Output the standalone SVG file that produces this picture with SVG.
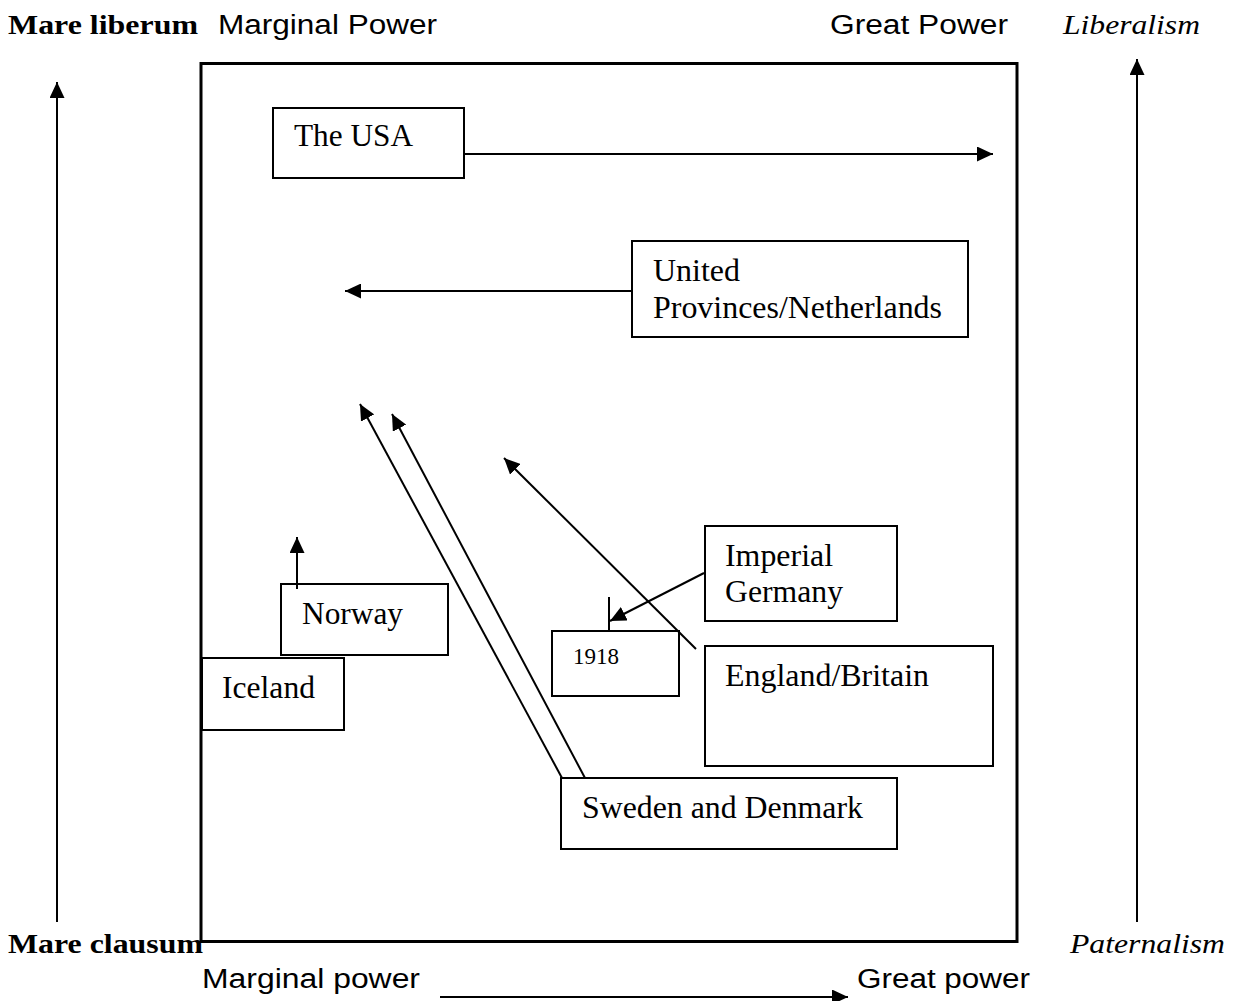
<svg xmlns="http://www.w3.org/2000/svg" width="1240" height="1001" viewBox="0 0 1240 1001">
<style>
.node rect{fill:#fff;stroke:#000;stroke-width:2}
.nt{font-family:"Liberation Serif","Times New Roman",serif;font-size:32px;fill:#000}
.ax{font-family:"Liberation Sans",Arial,sans-serif;font-size:27px;fill:#000}
.bs{font-family:"Liberation Serif","Times New Roman",serif;font-size:28px;font-weight:bold;fill:#000}
.it{font-family:"Liberation Serif","Times New Roman",serif;font-size:28px;font-style:italic;fill:#000}
.conn line{stroke:#000;stroke-width:2;fill:none}
</style>
<defs>
<marker id="ah" markerUnits="userSpaceOnUse" markerWidth="17" markerHeight="15" refX="16" refY="7.5" orient="auto">
<path d="M0,0 L16,7.5 L0,15 z" fill="#000"/>
</marker>
</defs>
<rect width="1240" height="1001" fill="#fff"/>
<rect id="frame" x="201" y="63.5" width="816" height="878" fill="none" stroke="#000" stroke-width="3"/>
<g id="labels">
<text class="bs" x="8" y="34" textLength="190" lengthAdjust="spacingAndGlyphs">Mare liberum</text>
<text class="ax" x="218" y="34" textLength="219" lengthAdjust="spacingAndGlyphs">Marginal Power</text>
<text class="ax" x="830" y="34" textLength="178" lengthAdjust="spacingAndGlyphs">Great Power</text>
<text class="it" x="1063" y="34" textLength="137" lengthAdjust="spacingAndGlyphs">Liberalism</text>
<text class="bs" x="8" y="953" textLength="195" lengthAdjust="spacingAndGlyphs">Mare clausum</text>
<text class="it" x="1070" y="953" textLength="155" lengthAdjust="spacingAndGlyphs">Paternalism</text>
<text class="ax" x="202" y="988" textLength="218" lengthAdjust="spacingAndGlyphs">Marginal power</text>
<text class="ax" x="857" y="988" textLength="173" lengthAdjust="spacingAndGlyphs">Great power</text>
</g>
<g id="usa" class="node"><rect x="273" y="108" width="191" height="70"/><text class="nt" x="294" y="146" textLength="119" lengthAdjust="spacingAndGlyphs">The USA</text></g>
<g id="netherlands" class="node"><rect x="632" y="241" width="336" height="96"/><text class="nt" x="653" y="281" textLength="87" lengthAdjust="spacingAndGlyphs">United</text><text class="nt" x="653" y="318" textLength="289" lengthAdjust="spacingAndGlyphs">Provinces/Netherlands</text></g>
<g id="imperial-germany" class="node"><rect x="705" y="526" width="192" height="95"/><text class="nt" x="725" y="566" textLength="108" lengthAdjust="spacingAndGlyphs">Imperial</text><text class="nt" x="725" y="602" textLength="118" lengthAdjust="spacingAndGlyphs">Germany</text></g>
<g id="england" class="node"><rect x="705" y="646" width="288" height="120"/><text class="nt" x="725" y="686" textLength="204" lengthAdjust="spacingAndGlyphs">England/Britain</text></g>
<g id="norway" class="node"><rect x="281" y="584" width="167" height="71"/><text class="nt" x="302" y="624" textLength="101" lengthAdjust="spacingAndGlyphs">Norway</text></g>
<g id="iceland" class="node"><rect x="202" y="658" width="142" height="72"/><text class="nt" x="222" y="698" textLength="93" lengthAdjust="spacingAndGlyphs">Iceland</text></g>
<g id="y1918" class="node"><rect x="552" y="631" width="127" height="65"/><text class="nt" x="573" y="664" style="font-size:23px" textLength="46" lengthAdjust="spacingAndGlyphs">1918</text></g>
<g id="sweden-denmark" class="node"><rect x="561" y="778" width="336" height="71"/><text class="nt" x="582" y="818" textLength="281" lengthAdjust="spacingAndGlyphs">Sweden and Denmark</text></g>
<g id="connectors" class="conn">
<line x1="57" y1="922" x2="57" y2="82" marker-end="url(#ah)"/>
<line x1="1137" y1="922" x2="1137" y2="59" marker-end="url(#ah)"/>
<line x1="440" y1="997" x2="848" y2="997" marker-end="url(#ah)"/>
<line x1="465" y1="154" x2="993" y2="154" marker-end="url(#ah)"/>
<line x1="632" y1="291" x2="345" y2="291" marker-end="url(#ah)"/>
<line x1="297" y1="589" x2="297" y2="537" marker-end="url(#ah)"/>
<line x1="562" y1="778" x2="360" y2="404" marker-end="url(#ah)"/>
<line x1="585" y1="778" x2="392" y2="414" marker-end="url(#ah)"/>
<line x1="696" y1="649" x2="504" y2="458" marker-end="url(#ah)"/>
<line x1="704" y1="573" x2="610" y2="621" marker-end="url(#ah)"/>
<line x1="609" y1="597" x2="609" y2="631"/>
</g>
</svg>
